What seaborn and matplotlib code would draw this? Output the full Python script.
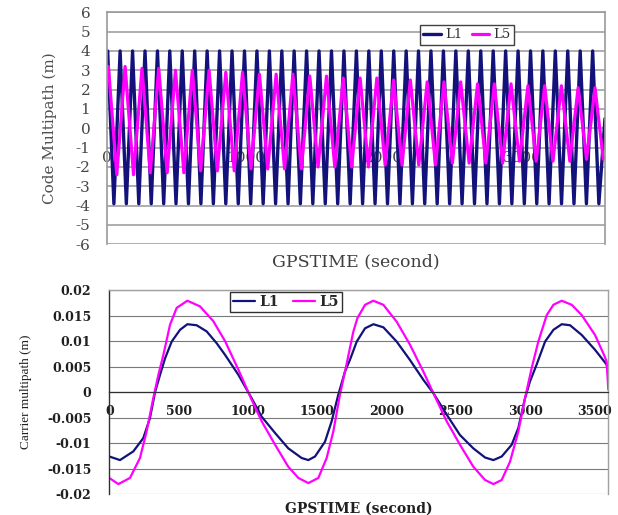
import matplotlib
matplotlib.use("Agg")
import matplotlib.pyplot as plt
import seaborn as sns
import pandas as pd
from matplotlib.ticker import FixedLocator, FixedFormatter

sns.set_theme(style="white")
plt.rcParams["font.family"] = ["DejaVu Serif"]

# ---------------- data: code multipath (top) ----------------
code_l1_time = [
    0, 5, 50, 95, 140, 185, 230, 275, 320, 365, 410, 454, 499, 544, 589,
    634, 679, 724, 769, 814, 859, 904, 949, 994, 1039, 1084, 1129, 1174,
    1219, 1264, 1309, 1353, 1398, 1443, 1488, 1533, 1578, 1623, 1668, 1713,
    1758, 1803, 1848, 1893, 1938, 1983, 2028, 2073, 2118, 2163, 2208, 2252,
    2297, 2342, 2387, 2432, 2477, 2522, 2567, 2612, 2657, 2702, 2747, 2792,
    2837, 2882, 2927, 2972, 3017, 3062, 3107, 3151, 3196, 3241, 3286, 3331,
    3376, 3421, 3466, 3511, 3556, 3600]
code_l1 = [
    3.8,
    4.0, -3.9, 4.0, -3.9, 4.0, -3.9, 4.0, -3.9, 4.0, -3.9,
    4.0, -3.9, 4.0, -3.9, 4.0, -3.9, 4.0, -3.9, 4.0, -3.9,
    4.0, -3.9, 4.0, -3.9, 4.0, -3.9, 4.0, -3.9, 4.0, -3.9,
    4.0, -3.9, 4.0, -3.9, 4.0, -3.9, 4.0, -3.9, 4.0, -3.9,
    4.0, -3.9, 4.0, -3.9, 4.0, -3.9, 4.0, -3.9, 4.0, -3.9,
    4.0, -3.9, 4.0, -3.9, 4.0, -3.9, 4.0, -3.9, 4.0, -3.9,
    4.0, -3.9, 4.0, -3.9, 4.0, -3.9, 4.0, -3.9, 4.0, -3.9,
    4.0, -3.9, 4.0, -3.9, 4.0, -3.9, 4.0, -3.9, 4.0, -3.9,
    0.5]

code_l5_time = [
    0, 10, 71, 131, 192, 253, 313, 374, 435, 495, 556, 617, 677, 738, 798,
    859, 920, 980, 1041, 1102, 1162, 1223, 1284, 1344, 1405, 1466, 1526,
    1587, 1647, 1708, 1769, 1830, 1890, 1951, 2011, 2072, 2133, 2193, 2254,
    2315, 2375, 2436, 2497, 2557, 2618, 2679, 2739, 2800, 2860, 2921, 2982,
    3043, 3103, 3164, 3224, 3285, 3346, 3406, 3467, 3528, 3588, 3600]
code_l5 = [
    2.6,
    3.2, -2.4, 3.2, -2.4, 3.1, -2.3, 3.1, -2.3, 3.0, -2.3,
    3.0, -2.2, 3.0, -2.2, 2.9, -2.2, 2.9, -2.1, 2.8, -2.1,
    2.8, -2.1, 2.8, -2.1, 2.7, -2.0, 2.7, -2.0, 2.6, -2.0,
    2.6, -2.0, 2.6, -1.9, 2.5, -1.9, 2.5, -1.9, 2.4, -1.9,
    2.4, -1.8, 2.4, -1.8, 2.3, -1.8, 2.3, -1.8, 2.3, -1.7,
    2.2, -1.7, 2.2, -1.7, 2.2, -1.7, 2.1, -1.6, 2.1, -1.6,
    -1.5]

code_yticks = [-6, -5, -4, -3, -2, -1, 0, 1, 2, 3, 4, 5, 6]
code_yticklabels = ["-6", "-5", "-4", "-3", "-2", "-1", "0", "1", "2", "3", "4", "5", "6"]
code_xticks = [0, 1000, 2000, 3000]
code_xticklabels = ["0", "1000", "2000", "3000"]

# ---------------- data: carrier multipath (bottom) ----------------
carr_l1_time = [0, 77, 173, 245, 293, 330, 366, 402, 450, 510, 563, 630, 702,
                774, 835, 931, 1027, 1099, 1196, 1291, 1388, 1436, 1484, 1556,
                1604, 1652, 1700, 1737, 1785, 1845, 1905, 1977, 2073, 2169,
                2266, 2338, 2434, 2530, 2626, 2711, 2771, 2831, 2903, 2951,
                2999, 3035, 3083, 3144, 3204, 3264, 3324, 3408, 3504, 3588, 3600]
carr_l1 = [-0.0126, -0.0133, -0.0116, -0.0090, -0.0051, 0.0, 0.0034, 0.0066,
           0.0099, 0.0122, 0.0133, 0.0131, 0.0119, 0.0096, 0.0073, 0.0034,
           -0.0012, -0.0048, -0.0080, -0.0110, -0.0129, -0.0133, -0.0126,
           -0.0097, -0.0057, -0.0005, 0.0040, 0.0064, 0.0099, 0.0125, 0.0133,
           0.0127, 0.0099, 0.0063, 0.0024, -0.0002, -0.0044, -0.0084, -0.0110,
           -0.0128, -0.0133, -0.0126, -0.0103, -0.0070, -0.0012, 0.0021,
           0.0054, 0.0099, 0.0122, 0.0133, 0.0131, 0.0112, 0.0083, 0.0054, 0.0034]

carr_l5_time = [0, 65, 149, 221, 269, 317, 354, 390, 438, 486, 563, 654, 750,
                835, 931, 1027, 1099, 1196, 1291, 1364, 1436, 1508, 1568, 1616,
                1664, 1712, 1737, 1760, 1790, 1845, 1905, 1977, 2073, 2169,
                2266, 2338, 2434, 2530, 2626, 2711, 2771, 2831, 2891, 2951,
                2999, 3047, 3095, 3156, 3204, 3264, 3336, 3408, 3504, 3564,
                3588, 3600]
carr_l5 = [-0.0168, -0.0180, -0.0168, -0.0129, -0.0077, -0.0012, 0.0034, 0.0073,
           0.0132, 0.0165, 0.0179, 0.0168, 0.0139, 0.0100, 0.0044, -0.0015,
           -0.0057, -0.0103, -0.0146, -0.0168, -0.0178, -0.0168, -0.0129,
           -0.0077, -0.0005, 0.0055, 0.0088, 0.0118, 0.0145, 0.0171, 0.0179,
           0.0171, 0.0138, 0.0093, 0.0040, -0.0002, -0.0057, -0.0103, -0.0146,
           -0.0172, -0.0180, -0.0172, -0.0136, -0.0077, -0.0012, 0.0047,
           0.0099, 0.0151, 0.0171, 0.0179, 0.0171, 0.0151, 0.0112, 0.0076,
           0.0060, 0.0005]

carr_yticks = [-0.02, -0.015, -0.01, -0.005, 0, 0.005, 0.01, 0.015, 0.02]
carr_yticklabels = ["-0.02", "-0.015", "-0.01", "-0.005", "0", "0.005", "0.01", "0.015", "0.02"]
carr_xticks = [0, 500, 1000, 1500, 2000, 2500, 3000, 3500]
carr_xticklabels = ["0", "500", "1000", "1500", "2000", "2500", "3000", "3500"]

series_names = ["L1", "L5"]
NAVY = "#12127a"
MAGENTA = "#ff00ff"

fig = plt.figure(figsize=(6.18, 5.15), dpi=100)
ax1 = fig.add_axes([0.1731, 0.5256, 0.8058, 0.4505])
ax2 = fig.add_axes([0.1769, 0.0402, 0.8074, 0.3967])

# ---------------- top chart ----------------
df1 = pd.DataFrame({"t": code_l1_time, "v": code_l1})
df5 = pd.DataFrame({"t": code_l5_time, "v": code_l5})
sns.lineplot(data=df1, x="t", y="v", ax=ax1, color=NAVY, lw=2.4,
             label=series_names[0], estimator=None, sort=False)
sns.lineplot(data=df5, x="t", y="v", ax=ax1, color=MAGENTA, lw=2.3,
             label=series_names[1], estimator=None, sort=False)
ax1.set_xlim(0, 3600)
ax1.set_ylim(-6, 6)
ax1.yaxis.set_major_locator(FixedLocator(code_yticks))
ax1.yaxis.set_major_formatter(FixedFormatter(code_yticklabels))
ax1.xaxis.set_major_locator(FixedLocator(code_xticks))
ax1.xaxis.set_major_formatter(FixedFormatter(code_xticklabels))
ax1.grid(axis="y", color="#a0a0a0", lw=1.2)
ax1.grid(axis="x", visible=False)
ax1.set_axisbelow(True)
ax1.spines["bottom"].set_position(("data", 0))
ax1.spines["bottom"].set_visible(False)
for s in ["left", "top", "right"]:
    ax1.spines[s].set_color("#9a9a9a")
    ax1.spines[s].set_linewidth(1.2)
ax1.tick_params(axis="x", length=0, pad=16, labelsize=11, labelcolor="#454545")
ax1.tick_params(axis="y", length=0, pad=12, labelsize=11, labelcolor="#454545")
ax1.set_xlabel("GPSTIME (second)", fontsize=12.5, color="#404040")
ax1.set_ylabel("Code Multipath (m)", fontsize=11, color="#505050")
ax1.xaxis.set_label_coords(0.5, -0.04)
ax1.yaxis.set_label_coords(-0.10, 0.5)
leg1 = ax1.legend(loc="center", bbox_to_anchor=(467 / 618, 1 - 35 / 515),
                  bbox_transform=fig.transFigure, ncol=2, frameon=True,
                  fancybox=False, edgecolor="#404040", framealpha=1,
                  fontsize=9.5, handlelength=1.35, columnspacing=0.7,
                  handletextpad=0.3, borderpad=0.25, borderaxespad=0)
leg1.get_frame().set_linewidth(1.0)
for t in leg1.get_texts():
    t.set_color("#303030")

# ---------------- bottom chart ----------------
dc1 = pd.DataFrame({"t": carr_l1_time, "v": carr_l1})
dc5 = pd.DataFrame({"t": carr_l5_time, "v": carr_l5})
sns.lineplot(data=dc1, x="t", y="v", ax=ax2, color=NAVY, lw=1.6,
             label=series_names[0], estimator=None, sort=False)
sns.lineplot(data=dc5, x="t", y="v", ax=ax2, color=MAGENTA, lw=1.6,
             label=series_names[1], estimator=None, sort=False)
ax2.set_xlim(0, 3600)
ax2.set_ylim(-0.02, 0.02)
ax2.yaxis.set_major_locator(FixedLocator(carr_yticks))
ax2.yaxis.set_major_formatter(FixedFormatter(carr_yticklabels))
ax2.xaxis.set_major_locator(FixedLocator(carr_xticks))
ax2.xaxis.set_major_formatter(FixedFormatter(carr_xticklabels))
ax2.grid(axis="y", color="#7a7a7a", lw=0.8)
ax2.grid(axis="x", visible=False)
ax2.set_axisbelow(True)
ax2.spines["bottom"].set_position(("data", 0))
ax2.spines["bottom"].set_color("#303030")
ax2.spines["bottom"].set_linewidth(0.9)
ax2.spines["left"].set_color("#303030")
ax2.spines["left"].set_linewidth(1.0)
for s in ["top", "right"]:
    ax2.spines[s].set_color("#a0a0a0")
    ax2.spines[s].set_linewidth(1.0)
ax2.tick_params(axis="x", direction="in", length=3.5, width=1, color="#303030",
                pad=9, labelsize=9)
ax2.tick_params(axis="y", length=0, pad=13, labelsize=9)
for lab in ax2.get_xticklabels() + ax2.get_yticklabels():
    lab.set_fontweight("bold")
    lab.set_color("#202020")
ax2.set_xlabel("GPSTIME (second)", fontsize=10, fontweight="bold", color="#202020")
ax2.set_ylabel("Carrier multipath (m)", fontsize=9.5, color="#202020",
               family=["Liberation Serif"])
ax2.xaxis.set_label_coords(0.5, -0.035)
ax2.yaxis.set_label_coords(-0.155, 0.5)
leg2 = ax2.legend(loc="center", bbox_to_anchor=(286 / 618, 1 - 302 / 515),
                  bbox_transform=fig.transFigure, ncol=2, frameon=True,
                  fancybox=False, edgecolor="#303030", framealpha=1,
                  prop={"size": 10, "weight": "bold"}, handlelength=1.6,
                  columnspacing=1.0, handletextpad=0.3, borderpad=0.2,
                  borderaxespad=0)
leg2.get_frame().set_linewidth(1.0)

fig.savefig("out.png", dpi=100, facecolor="white")
